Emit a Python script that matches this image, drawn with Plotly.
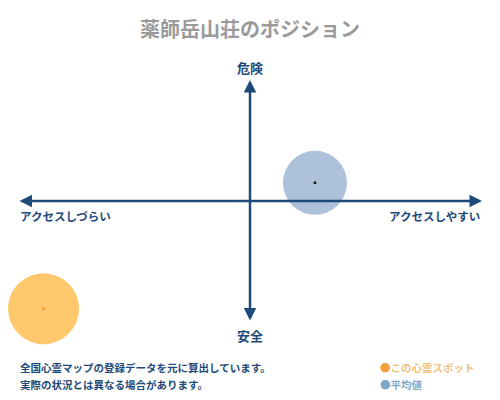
import plotly.graph_objects as go

# data
categories = ["この心霊スポット", "平均値"]
x_vals = [-0.89, 0.28]
y_vals = [-0.89, 0.15]
axis_top = "危険"
axis_bottom = "安全"
axis_left = "アクセスしづらい"
axis_right = "アクセスしやすい"
title_text = "薬師岳山荘のポジション"
notes = ["全国心霊マップの登録データを元に算出しています。", "実際の状況とは異なる場合があります。"]

NAVY = "#1d4a78"
FONT = "Noto Sans CJK JP"
bubble_colors = ["#ffc86c", "#adc2da"]
dot_colors = ["#f0a020", "#1a1a1a"]
bubble_sizes = [71, 64]
legend_dot = ["#f2a03c", "#7ea6c8"]
legend_txt = ["#f3c07e", "#86a9c9"]

fig = go.Figure()
fig.add_trace(go.Scatter(
    x=x_vals, y=y_vals, mode="markers", cliponaxis=False,
    marker=dict(size=bubble_sizes, color=bubble_colors, opacity=1, line=dict(width=0)),
    hoverinfo="skip", showlegend=False))
fig.add_trace(go.Scatter(
    x=x_vals, y=y_vals, mode="markers", cliponaxis=False,
    marker=dict(size=3, color=dot_colors, opacity=1, line=dict(width=0)),
    hoverinfo="skip", showlegend=False))

anns = []
# axes arrows
anns.append(dict(x=1, y=0, ax=-1, ay=0, xref="x", yref="y", axref="x", ayref="y",
                 showarrow=True, arrowhead=2, arrowside="end+start", arrowsize=1,
                 arrowwidth=2.5, arrowcolor=NAVY, text=""))
anns.append(dict(x=0, y=1, ax=0, ay=-1, xref="x", yref="y", axref="x", ayref="y",
                 showarrow=True, arrowhead=2, arrowside="end+start", arrowsize=1,
                 arrowwidth=2.5, arrowcolor=NAVY, text=""))
lab_font = dict(family=FONT, size=13, color=NAVY)
anns.append(dict(x=0.5, y=1.05, xref="paper", yref="paper", text="<b>%s</b>" % axis_top,
                 showarrow=False, font=lab_font, xanchor="center", yanchor="middle"))
anns.append(dict(x=0.5, y=-0.054, xref="paper", yref="paper", text="<b>%s</b>" % axis_bottom,
                 showarrow=False, font=lab_font, xanchor="center", yanchor="middle"))
side_font = dict(family=FONT, size=11.5, color=NAVY)
anns.append(dict(x=0, y=0.44, xref="paper", yref="paper", text="<b>%s</b>" % axis_left,
                 showarrow=False, font=side_font, xanchor="left", yanchor="middle"))
anns.append(dict(x=1, y=0.44, xref="paper", yref="paper", text="<b>%s</b>" % axis_right,
                 showarrow=False, font=side_font, xanchor="right", yanchor="middle"))
note_font = dict(family=FONT, size=10.5, color=NAVY)
for i, t in enumerate(notes):
    anns.append(dict(x=0, y=-0.19 - i * 0.07, xref="paper", yref="paper", text="<b>%s</b>" % t,
                     showarrow=False, font=note_font, xanchor="left", yanchor="middle"))
for i, c in enumerate(categories):
    anns.append(dict(x=0.775, y=-0.19 - i * 0.07, xref="paper", yref="paper",
                     text="<span style='color:%s'>●</span><span style='color:%s'><b>%s</b></span>" % (legend_dot[i], legend_txt[i], c),
                     showarrow=False, font=dict(family=FONT, size=10.5), xanchor="left", yanchor="middle"))

fig.update_layout(
    width=492, height=392,
    margin=dict(l=10, r=18, t=72, b=78),
    paper_bgcolor="white", plot_bgcolor="white",
    title=dict(text="<b>%s</b>" % title_text, x=0.5, xanchor="center", xref="paper",
               y=0.944, yanchor="middle",
               font=dict(family=FONT, size=20, color="#9a9a9a")),
    xaxis=dict(range=[-1, 1], visible=False, fixedrange=True),
    yaxis=dict(range=[-1, 1], visible=False, fixedrange=True),
    annotations=anns,
    showlegend=False,
)
fig.write_html("out.html")
